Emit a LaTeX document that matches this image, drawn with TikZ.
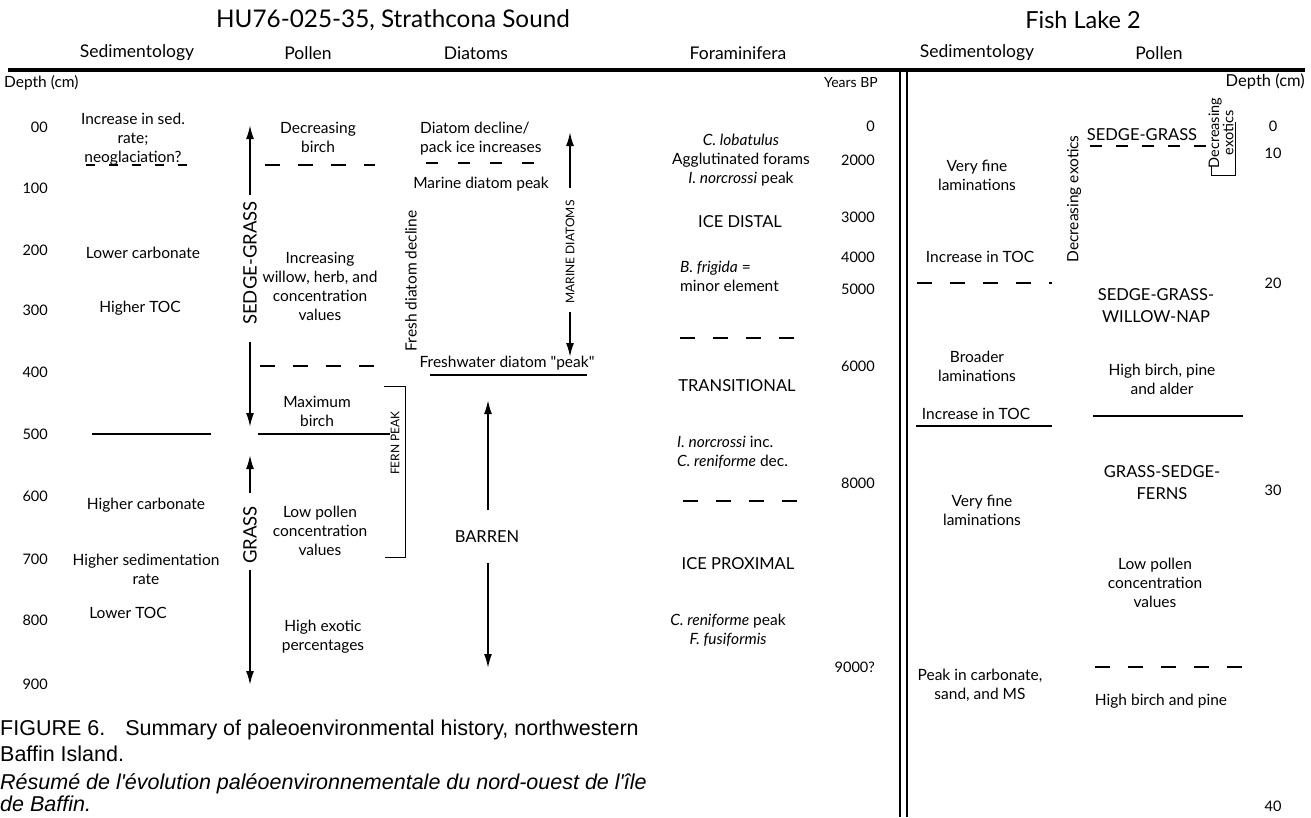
\documentclass[tikz,border=0pt]{standalone}
\usepackage{fontspec}
\setmainfont{Lato}
\newfontfamily\plainlato{Lato}
\newfontfamily\capfont{Liberation Sans}
\usetikzlibrary{arrows.meta,positioning}

\begin{document}
\begin{tikzpicture}[x=1pt, y=-1pt,
    txt/.style={align=center, inner sep=0pt, font=\fontsize{15.5}{19}\selectfont},
    caps/.style={align=center, inner sep=0pt, font=\fontsize{16.5}{22}\selectfont},
    colhead/.style={inner sep=0pt, font=\fontsize{17.5}{20}\selectfont},
    title/.style={inner sep=0pt, font=\fontsize{24.3}{28}\selectfont},
    num/.style={inner sep=0pt, font=\fontsize{14.5}{16}\selectfont},
    vlabel/.style={inner sep=0pt, rotate=90, align=center, font=\fontsize{15.5}{19}\selectfont},
    vbig/.style={inner sep=0pt, rotate=90, font=\fontsize{18.5}{20}\selectfont},
    vsmall/.style={inner sep=0pt, rotate=90, font=\fontsize{12}{14}\selectfont},
    arr/.style={-{Latex[length=14pt,width=8pt]}, line width=1.8pt},
    zone/.style={line width=1.8pt},
    zonedash/.style={line width=1.5pt, dash pattern=on 15pt off 18pt},
    brack/.style={line width=1pt},
    caption/.style={anchor=west, align=left, inner sep=0pt, font=\capfont\fontsize{21.5}{26}\selectfont}
  ]
  \useasboundingbox (0,0) rectangle (1311,817);

  % titles and column heads
  \node[title] (tsound) at (393,20) {HU76-025-35, Strathcona Sound};
  \node[title, font=\fontsize{23.5}{27}\selectfont] (tlake) at (1083,20) {Fish Lake 2};
  \node[colhead] (hsed) at (137,53) {Sedimentology};
  \node[colhead] (hpol) at (308,53) {Pollen};
  \node[colhead] (hdia) at (476,53) {Diatoms};
  \node[colhead] (hfor) at (738,53) {Foraminifera};
  \node[colhead] (hsed2) at (977,53) {Sedimentology};
  \node[colhead] (hpol2) at (1159,53) {Pollen};
  \draw[line width=4pt] (8,70) coordinate (rulel) -- (1305,70) coordinate (ruler);
  \draw[line width=2.5pt] (900,70) coordinate (dbl1t) -- (900,817) coordinate (dbl1b);
  \draw[line width=2.5pt] (907,70) coordinate (dbl2t) -- (907,817) coordinate (dbl2b);

  \node[txt, anchor=west] (depthl) at (4,83) {Depth (cm)};
  \node[txt, anchor=east, font=\fontsize{14}{16}\selectfont] (years) at (878,83) {Years BP};
  \node[txt, anchor=east, font=\fontsize{16.5}{18}\selectfont] (depthr) at (1305,82) {Depth (cm)};

  % depth scale, core
  \foreach \d/\y in {00/127,100/188,200/250,300/310,400/372,500/434,600/496,700/559,800/620,900/684}
    \node[num, anchor=east] (dep\d) at (48,\y) {\d};

  % Sedimentology
  \node[txt] (sed1) at (133,139) {Increase in sed.\\rate;\\neoglaciation?};
  \draw[zonedash, dash pattern=on 9pt off 14pt] (86,165) coordinate (neo1) -- (197,165) coordinate (neo2);
  \node[txt] (sed2) at (143,253) {Lower carbonate};
  \node[txt] (sed3) at (140,308) {Higher TOC};
  \draw[zone] (92,434) coordinate (sz1) -- (211,434) coordinate (sz2);
  \node[txt] (sed4) at (146,505) {Higher carbonate};
  \node[txt] (sed5) at (146,569) {Higher sedimentation\\rate};
  \node[txt] (sed6) at (128,613) {Lower TOC};

  % Pollen
  \coordinate (pa1) at (250,195); \coordinate (pa2) at (250,125);
  \coordinate (pa3) at (250,342); \coordinate (pa4) at (250,427);
  \coordinate (pa5) at (250,493); \coordinate (pa6) at (250,455);
  \coordinate (pa7) at (250,570); \coordinate (pa8) at (250,685);
  \draw[arr] (pa1) -- (pa2);
  \draw[arr] (pa3) -- (pa4);
  \draw[arr] (pa5) -- (pa6);
  \draw[arr] (pa7) -- (pa8);
  \node[vbig] (sg) at (250,263) {SEDGE-GRASS};
  \node[vbig] (gr) at (250,535) {GRASS};
  \node[txt] (pol1) at (318,137) {Decreasing\\birch};
  \draw[zonedash] (265,165) coordinate (pd1) -- (375,165) coordinate (pd2);
  \node[txt] (pol2) at (320,286) {Increasing\\willow, herb, and\\concentration\\values};
  \draw[zonedash] (260,366) coordinate (pd3) -- (375,366) coordinate (pd4);
  \node[txt] (pol3) at (317,411) {Maximum\\birch};
  \draw[zone] (258,434) coordinate (pz1) -- (390,434) coordinate (pz2);
  \node[txt] (pol4) at (320,531) {Low pollen\\concentration\\values};
  \node[txt] (pol5) at (323,637) {High exotic\\percentages};
  \draw[brack] (384,386) coordinate (fb1) -- (405,386) -- (405,557) -- (385,557) coordinate (fb2);
  \node[vsmall] (fern) at (395,443) {FERN PEAK};

  % Diatoms
  \node[txt, anchor=west, align=left] (dia1) at (420,139) {Diatom decline/\\pack ice increases};
  \draw[zonedash, dash pattern=on 12pt off 20pt] (426,163) coordinate (dd1) -- (538,163) coordinate (dd2);
  \node[txt] (dia2) at (481,184) {Marine diatom peak};
  \node[vlabel] (fresh) at (411,281) {Fresh diatom decline};
  \coordinate (da1) at (570,188); \coordinate (da2) at (570,132);
  \coordinate (da3) at (570,312); \coordinate (da4) at (570,357);
  \draw[arr] (da1) -- (da2);
  \draw[arr] (da3) -- (da4);
  \node[vsmall] (marine) at (570,252) {MARINE DIATOMS};
  \node[txt] (dia3) at (507,363) {Freshwater diatom {\plainlato"}peak{\plainlato"}};
  \draw[zone] (430,375) coordinate (dz1) -- (587,375) coordinate (dz2);
  \coordinate (da5) at (488,510); \coordinate (da6) at (488,400);
  \coordinate (da7) at (488,563); \coordinate (da8) at (488,668);
  \draw[arr] (da5) -- (da6);
  \draw[arr] (da7) -- (da8);
  \node[caps] (barren) at (487,537) {BARREN};

  % Foraminifera
  \node[txt] (for1) at (741,160) {\textit{C. lobatulus}\\Agglutinated forams\\\textit{I. norcrossi} peak};
  \node[caps] (for2) at (740,222) {ICE DISTAL};
  \node[txt, anchor=west, align=left] (for3) at (680,276) {\textit{B. frigida} =\\minor element};
  \draw[zonedash] (680,338) coordinate (fd1) -- (795,338) coordinate (fd2);
  \node[caps] (for4) at (737,386) {TRANSITIONAL};
  \node[txt, anchor=west, align=left] (for5) at (677,452) {\textit{I. norcrossi} inc.\\\textit{C. reniforme} dec.};
  \draw[zonedash] (683,501) coordinate (fd3) -- (798,501) coordinate (fd4);
  \node[caps] (for6) at (738,564) {ICE PROXIMAL};
  \node[txt] (for7) at (728,630) {\textit{C. reniforme} peak\\\textit{F. fusiformis}};

  % Years BP
  \foreach \a/\y in {0/126,2000/160,3000/217,4000/257,5000/289,6000/366,8000/483,9000?/667}
    \node[num, anchor=east] (yr\a) at (875,\y) {\a};

  % Fish Lake 2, Sedimentology
  \node[txt] (fs1) at (977,175) {Very fine\\laminations};
  \node[txt] (fs2) at (980,257) {Increase in TOC};
  \draw[zonedash] (917,283) coordinate (fsd1) -- (1052,283) coordinate (fsd2);
  \node[txt] (fs3) at (977,366) {Broader\\laminations};
  \node[txt] (fs4) at (976,414) {Increase in TOC};
  \draw[zone] (916,426) coordinate (fsz1) -- (1052,426) coordinate (fsz2);
  \node[txt] (fs5) at (982,510) {Very fine\\laminations};
  \node[txt] (fs6) at (980,685) {Peak in carbonate,\\sand, and MS};

  % Fish Lake 2, Pollen
  \node[vlabel] (fex1) at (1074,199) {Decreasing exotics};
  \node[caps] (fp1) at (1142,135) {SEDGE-GRASS};
  \draw[zonedash, dash pattern=on 12pt off 14pt] (1090,146) coordinate (fpd1) -- (1206,146) coordinate (fpd2);
  \node[vlabel, font=\fontsize{14.5}{13}\selectfont] (fex2) at (1221,133) {Decreasing\\exotics};
  \draw[brack] (1211,166) coordinate (fb3) -- (1211,175) -- (1235,175) -- (1235,122) coordinate (fb4);
  \node[caps] (fp2) at (1156,306) {SEDGE-GRASS-\\WILLOW-NAP};
  \node[txt] (fp3) at (1162,379) {High birch, pine\\and alder};
  \draw[zone] (1093,416) coordinate (fpz1) -- (1243,416) coordinate (fpz2);
  \node[caps] (fp4) at (1162,483) {GRASS-SEDGE-\\FERNS};
  \node[txt] (fp5) at (1155,583) {Low pollen\\concentration\\values};
  \draw[zonedash] (1095,667) coordinate (fpd3) -- (1243,667) coordinate (fpd4);
  \node[txt] (fp6) at (1161,701) {High birch and pine};

  % depth scale, lake
  \foreach \d/\y in {0/126,10/153,20/283,30/490,40/806}
    \node[num] (ldep\d) at (1273,\y) {\d};

  % caption
  \node[caption] (cap1) at (0,741) {FIGURE 6.\hspace{12pt} Summary of paleoenvironmental history, northwestern\\Baffin Island.};
  \node[caption, font=\capfont\itshape\fontsize{21.5}{22}\selectfont] (cap2) at (0,793) {Résumé de l'évolution paléoenvironnementale du nord-ouest de l'île\\de Baffin.};
\end{tikzpicture}
\end{document}
